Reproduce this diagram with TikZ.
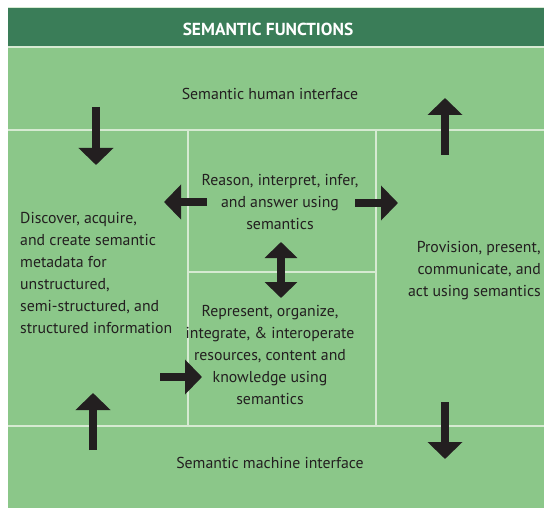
\documentclass[tikz,border=0pt]{standalone}
\usepackage{fontspec}
\setmainfont{PT Sans}
\usetikzlibrary{arrows.meta}
\definecolor{hdr}{HTML}{3A7D58}
\definecolor{cell}{HTML}{8BC789}
\definecolor{rule}{HTML}{D6EAD2}
\definecolor{ink}{HTML}{231F20}
\tikzset{
  lbl/.style={inner sep=0pt, text=ink, font=\fontsize{15.8}{22}\selectfont},
  gridline/.style={draw=rule, line width=2pt},
  blk/.style={draw=ink, line width=8pt},
  hd/.style={-{Triangle[width=34pt,length=17pt]}},
  dhd/.style={{Triangle[width=32pt,length=16pt]}-{Triangle[width=32pt,length=16pt]}},
}
\begin{document}
\begin{tikzpicture}[x=1pt,y=-1pt]
\useasboundingbox (0,0) rectangle (544,508);
% backgrounds
\fill[cell] (8,46) rectangle (544,508);
\fill[hdr] (8,7) rectangle (544,46);
\draw[rule, line width=1.2pt] (8,7.5) -- (544,7.5);
\draw[gridline] (8,47) -- (544,47);
% grid
\draw[gridline] (8,130) -- (544,130);
\draw[gridline] (8,426) -- (544,426);
\draw[gridline] (188,130) -- (188,426);
\draw[gridline] (376,130) -- (376,426);
\draw[gridline] (188,272) -- (376,272);
% texts
\node[inner sep=0pt, text=white, font=\fontsize{17.4}{20}\selectfont\bfseries] (title) at (268,29) {SEMANTIC FUNCTIONS};
\node[lbl] (human) at (270,94) {Semantic human interface};
\node[lbl] (machine) at (270,463) {Semantic machine interface};
\node[lbl, align=left, anchor=west] (discover) at (20,273) {Discover, acquire,\\and create semantic\\metadata for\\unstructured,\\semi-structured, and\\structured information};
\node[lbl, align=center] (reason) at (280,202) {Reason, interpret, infer,\\and answer using\\semantics};
\node[lbl, align=center] (represent) at (270,355) {Represent, organize,\\integrate, \& interoperate\\resources, content and\\knowledge using\\semantics};
\node[lbl, align=right, anchor=east] (provision) at (541,271) {Provision, present,\\communicate, and\\act using semantics};
% arrow end points
\coordinate (a1s) at (96,107);  \coordinate (a1e) at (96,165);
\coordinate (a2s) at (445,155); \coordinate (a2e) at (445,98);
\coordinate (a3s) at (207,202); \coordinate (a3e) at (164,202);
\coordinate (a4s) at (355,203); \coordinate (a4e) at (398,203);
\coordinate (a5s) at (281,242); \coordinate (a5e) at (281,298);
\coordinate (a6s) at (160,377); \coordinate (a6e) at (202,377);
\coordinate (a7s) at (93,450);  \coordinate (a7e) at (93,393);
\coordinate (a8s) at (445,402); \coordinate (a8e) at (445,459);
% arrows
\draw[blk, hd] (a1s) -- (a1e);
\draw[blk, hd] (a2s) -- (a2e);
\draw[blk, hd] (a3s) -- (a3e);
\draw[blk, hd] (a4s) -- (a4e);
\draw[blk, dhd] (a5s) -- (a5e);
\draw[blk, hd] (a6s) -- (a6e);
\draw[blk, hd] (a7s) -- (a7e);
\draw[blk, hd] (a8s) -- (a8e);
\end{tikzpicture}
\end{document}
